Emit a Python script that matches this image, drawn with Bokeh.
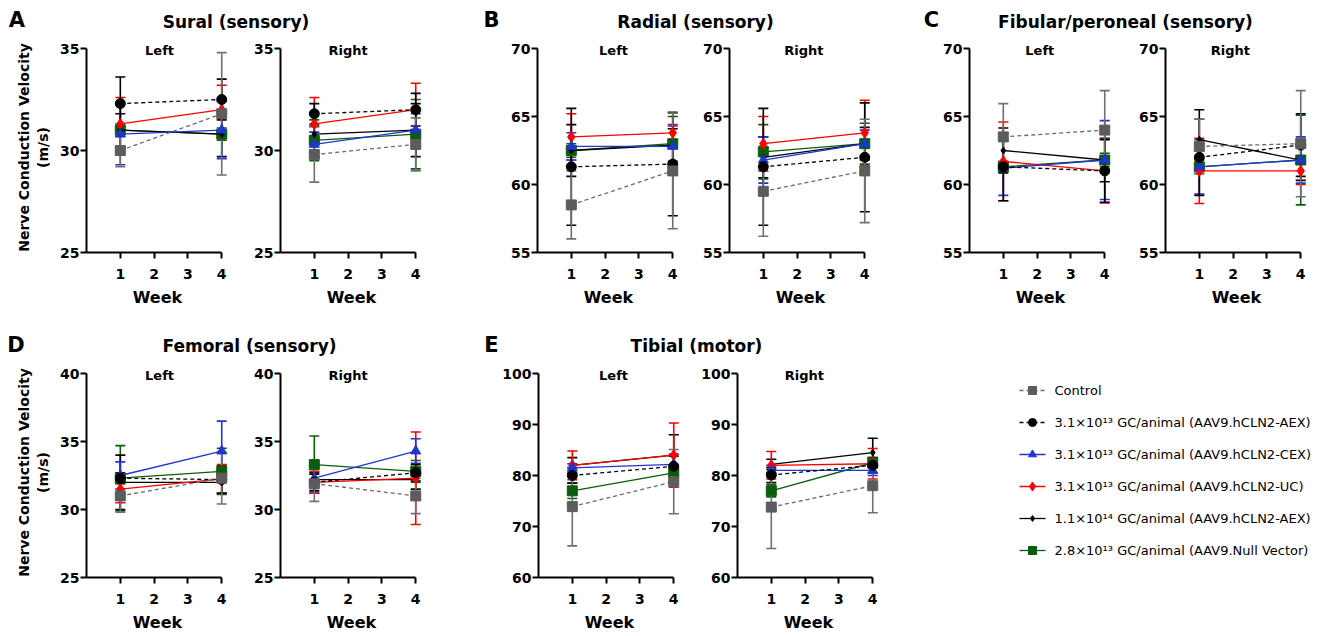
from bokeh.plotting import figure
from bokeh.models import (ColumnDataSource, Whisker, TeeHead, FixedTicker, Label, Range1d)
from bokeh.layouts import row, column
from bokeh.embed import file_html
from bokeh.resources import INLINE
from bokeh.core.properties import value

# ---------------- data ----------------
WEEKS = [1, 4]
SERIES = [
    "Control",
    "3.1×10¹³ GC/animal (AAV9.hCLN2-AEX)",
    "3.1×10¹³ GC/animal (AAV9.hCLN2-CEX)",
    "3.1×10¹³ GC/animal (AAV9.hCLN2-UC)",
    "1.1×10¹⁴ GC/animal (AAV9.hCLN2-AEX)",
    "2.8×10¹³ GC/animal (AAV9.Null Vector)",
]
# rows follow SERIES order, columns follow WEEKS (mean and SD, m/s)
SURAL_L_MEAN = [[30.0, 31.8], [32.3, 32.5], [30.8, 31.0], [31.3, 32.0], [31.0, 30.8], [31.0, 30.8]]
SURAL_L_SD = [[0.8, 3.0], [1.3, 1.0], [1.5, 1.4], [1.3, 1.2], [0.8, 1.1], [0.3, 0.3]]
SURAL_R_MEAN = [[29.8, 30.3], [31.8, 32.0], [30.3, 31.0], [31.3, 32.0], [30.8, 31.0], [30.5, 30.8]]
SURAL_R_SD = [[1.35, 1.3], [0.5, 0.8], [0.6, 0.8], [1.3, 1.3], [0.4, 1.3], [1.0, 1.7]]
RADIAL_L_MEAN = [[58.5, 61.0], [61.3, 61.5], [62.8, 62.8], [63.5, 63.8], [62.5, 62.9], [62.5, 63.0]]
RADIAL_L_SD = [[2.5, 4.25], [4.3, 3.8], [1.0, 1.5], [1.7, 0.6], [1.9, 1.2], [0.5, 2.0]]
RADIAL_R_MEAN = [[59.5, 61.0], [61.3, 62.0], [61.8, 63.0], [63.0, 63.8], [62.0, 63.0], [62.4, 63.0]]
RADIAL_R_SD = [[3.3, 3.8], [4.3, 4.0], [1.7, 1.0], [2.0, 2.4], [1.5, 1.2], [2.0, 1.5]]
FIBULAR_L_MEAN = [[63.5, 64.0], [61.3, 61.0], [61.2, 61.8], [61.7, 61.0], [62.5, 61.8], [61.3, 61.8]]
FIBULAR_L_SD = [[2.45, 2.9], [2.5, 2.3], [2.0, 2.9], [2.9, 2.35], [1.65, 1.6], [0.4, 0.5]]
FIBULAR_R_MEAN = [[62.8, 63.0], [62.0, 62.9], [61.3, 61.8], [61.0, 61.0], [63.3, 61.8], [61.3, 61.8]]
FIBULAR_R_SD = [[2.0, 3.9], [2.8, 2.3], [2.0, 1.7], [2.4, 1.0], [2.2, 1.5], [0.5, 3.3]]
FEMORAL_L_MEAN = [[31.0, 32.3], [32.3, 32.2], [32.5, 34.3], [31.5, 32.25], [32.0, 32.0], [32.3, 32.8]]
FEMORAL_L_SD = [[1.2, 1.9], [0.4, 1.0], [1.0, 2.2], [1.0, 1.05], [2.0, 0.8], [2.4, 1.7]]
FEMORAL_R_MEAN = [[31.9, 31.0], [32.0, 32.7], [32.3, 34.3], [32.0, 32.3], [32.2, 32.2], [33.3, 32.8]]
FEMORAL_R_SD = [[1.3, 1.3], [0.6, 0.6], [1.0, 0.9], [0.8, 3.4], [0.5, 0.7], [2.1, 0.8]]
TIBIAL_L_MEAN = [[73.9, 78.8], [80.0, 81.8], [81.5, 82.2], [82.0, 84.0], [82.0, 84.0], [77.0, 80.5]]
TIBIAL_L_SD = [[7.7, 6.3], [1.5, 2.0], [0.8, 2.0], [2.8, 6.3], [1.5, 4.0], [1.5, 1.5]]
TIBIAL_R_MEAN = [[73.8, 78.0], [80.1, 82.0], [81.0, 81.0], [82.0, 82.3], [82.2, 84.5], [77.0, 82.5]]
TIBIAL_R_SD = [[8.1, 5.3], [1.5, 1.5], [1.0, 1.0], [2.7, 3.0], [1.0, 2.8], [1.2, 1.0]]

X_TICKS = [1, 2, 3, 4]
SURAL_Y = (25, 35, [25, 30, 35])
RADIAL_Y = (55, 70, [55, 60, 65, 70])
FIBULAR_Y = (55, 70, [55, 60, 65, 70])
FEMORAL_Y = (25, 40, [25, 30, 35, 40])
TIBIAL_Y = (60, 100, [60, 70, 80, 90, 100])

# ---------------- styles ----------------
FONT = "DejaVu Sans"
STYLES = [
    dict(color="#5c5c5c", err="#707070", line="#6a6a6a", marker="square", size=10, dash="4 3"),
    dict(color="#000000", err="#000000", line="#000000", marker="circle", size=10, dash="4 3"),
    dict(color="#1f35d0", err="#1f35d0", line="#1f35d0", marker="triangle", size=10, dash="solid"),
    dict(color="#ff0000", err="#ff0000", line="#ff0000", marker="diamond", size=11, dash="solid"),
    dict(color="#000000", err="#000000", line="#000000", marker="diamond", size=7, dash="solid"),
    dict(color="#0b5d0b", err="#0b5d0b", line="#0b5d0b", marker="square", size=10, dash="solid"),
]
FRAME_W = 142       # x from 0 to 4.2
AXIS_H = 204        # pixel height of the bounded y axis
EXTRA_TOP = 6       # frame extends a little above the top tick
FRAME_H = AXIS_H + EXTRA_TOP
ORIGIN = 1


def style_axis(ax):
    ax.axis_line_width = 2
    ax.axis_line_color = "black"
    ax.major_tick_line_width = 2
    ax.major_tick_line_color = "black"
    ax.major_tick_out = 6
    ax.major_tick_in = 0
    ax.minor_tick_line_color = None
    ax.major_label_text_font = FONT
    ax.major_label_text_font_style = "bold"
    ax.major_label_text_font_size = "14px"
    ax.major_label_text_color = "black"
    ax.axis_label_text_font = FONT
    ax.axis_label_text_font_style = "bold"
    ax.axis_label_text_color = "black"


def subplot(mean, sd, yspec, side, side_x, bl, br, ylabel=False):
    y0, y1, yt = yspec
    ytop = y1 + (y1 - y0) * EXTRA_TOP / AXIS_H
    p = figure(frame_width=FRAME_W, frame_height=FRAME_H,
               x_range=Range1d(0, 4.2), y_range=Range1d(y0, ytop),
               min_border_left=bl, min_border_right=br, min_border_top=5, min_border_bottom=56,
               toolbar_location=None, output_backend="svg", tools="", title=None)
    p.grid.visible = False
    p.outline_line_color = None
    p.background_fill_color = "white"
    p.border_fill_color = "white"
    xa, ya = p.xaxis[0], p.yaxis[0]
    style_axis(xa)
    style_axis(ya)
    xa.ticker = FixedTicker(ticks=X_TICKS)
    xa.bounds = (0, 4)
    xa.axis_label = "Week"
    xa.axis_label_text_font_size = "16px"
    xa.major_label_standoff = 10
    xa.axis_label_standoff = 6
    ya.ticker = FixedTicker(ticks=yt)
    ya.bounds = (y0, y1)
    ya.major_label_standoff = 1
    if ylabel:
        ya.axis_label = "Nerve Conduction Velocity\n(m/s)"
        ya.axis_label_text_font_size = "14px"
        ya.axis_label_standoff = 6
    for i in reversed(range(len(SERIES))):
        st = STYLES[i]
        src = ColumnDataSource(dict(
            x=WEEKS, y=mean[i],
            upper=[m + s for m, s in zip(mean[i], sd[i])],
            lower=[m - s for m, s in zip(mean[i], sd[i])]))
        w = Whisker(source=src, base="x", upper="upper", lower="lower",
                    line_color=st["err"], line_width=1.6,
                    upper_head=TeeHead(size=10, line_color=st["err"], line_width=1.6),
                    lower_head=TeeHead(size=10, line_color=st["err"], line_width=1.6))
        p.add_layout(w)
        p.line("x", "y", source=src, line_color=st["line"], line_width=1.3, line_dash=st["dash"])
        p.scatter("x", "y", source=src, marker=st["marker"], size=st["size"],
                  fill_color=st["color"], line_color=st["color"])
    p.add_layout(Label(x=side_x, y=y1, text=side, text_align="center", text_baseline="middle",
                       y_offset=-2, text_font=FONT, text_font_style="bold",
                       text_font_size="13px", text_color="black"))
    return p


def blank(width, height, x0, y0):
    # an axis-less canvas whose coordinates equal page pixels (for titles and the key)
    s = figure(frame_width=width, frame_height=height,
               x_range=Range1d(x0, x0 + width), y_range=Range1d(y0 + height, y0),
               min_border=0, min_border_left=0, min_border_right=0,
               min_border_top=0, min_border_bottom=0,
               x_axis_type=None, y_axis_type=None, toolbar_location=None,
               output_backend="svg", tools="", title=None)
    s.grid.visible = False
    s.outline_line_color = None
    s.border_fill_color = "white"
    s.background_fill_color = "white"
    return s


def strip(top, height, letters, titles):
    s = blank(1311, height, ORIGIN, top)
    for (x, y, t) in letters:
        s.add_layout(Label(x=x, y=y, text=t, text_align="center", text_baseline="middle",
                           text_font=FONT, text_font_style="bold", text_font_size="21px",
                           text_color="black"))
    for (x, y, t) in titles:
        s.add_layout(Label(x=x, y=y, text=t, text_align="center", text_baseline="middle",
                           text_font=FONT, text_font_style="bold", text_font_size="17px",
                           text_color="black"))
    return s


strip1 = strip(ORIGIN, 38 - ORIGIN,
               [(17.5, 20, "A"), (492, 20, "B"), (932, 20, "C")],
               [(236.5, 22, "Sural (sensory)"), (696, 22, "Radial (sensory)"),
                (1126, 22, "Fibular/peroneal (sensory)")])

aL = subplot(SURAL_L_MEAN, SURAL_L_SD, SURAL_Y, "Left", 2.16, 87 - ORIGIN, 16, ylabel=True)
aR = subplot(SURAL_R_MEAN, SURAL_R_SD, SURAL_Y, "Right", 2.0, 36, 79)
bL = subplot(RADIAL_L_MEAN, RADIAL_L_SD, RADIAL_Y, "Left", 2.25, 36, 14)
bR = subplot(RADIAL_R_MEAN, RADIAL_R_SD, RADIAL_Y, "Right", 2.2, 36, 62)
cL = subplot(FIBULAR_L_MEAN, FIBULAR_L_SD, FIBULAR_Y, "Left", 2.08, 36, 18)
cR = subplot(FIBULAR_R_MEAN, FIBULAR_R_SD, FIBULAR_Y, "Right", 1.92, 36, 4)

ROW1_BOTTOM = 38 + 5 + FRAME_H + 56          # 309
ROW2_TOP = 362
strip2 = strip(ROW1_BOTTOM, ROW2_TOP - ROW1_BOTTOM,
               [(16.5, 344, "D"), (492, 344, "E")],
               [(250, 345, "Femoral (sensory)"), (697, 345, "Tibial (motor)")])

dL = subplot(FEMORAL_L_MEAN, FEMORAL_L_SD, FEMORAL_Y, "Left", 2.16, 87 - ORIGIN, 16, ylabel=True)
dR = subplot(FEMORAL_R_MEAN, FEMORAL_R_SD, FEMORAL_Y, "Right", 2.0, 36, 72)
eL = subplot(TIBIAL_L_MEAN, TIBIAL_L_SD, TIBIAL_Y, "Left", 2.22, 44, 13)
eR = subplot(TIBIAL_R_MEAN, TIBIAL_R_SD, TIBIAL_Y, "Right", 1.98, 44, 127)   # ends at x=1007

# ---------------- key (legend) panel ----------------
ROW_H = 5 + FRAME_H + 56
KEY_LEFT, KEY_W, KEY_GAP = 1020, 26, 9
KEY_TOP, KEY_PITCH = 385, 32
leg_fig = blank(308, ROW_H, 1007, ROW2_TOP)
for i, name in enumerate(SERIES):
    st = STYLES[i]
    yk = KEY_TOP + KEY_PITCH * i
    key = ColumnDataSource(dict(x0=[KEY_LEFT], x1=[KEY_LEFT + KEY_W], xm=[KEY_LEFT + KEY_W / 2],
                                xt=[KEY_LEFT + KEY_W + KEY_GAP], y=[yk], label=[name]))
    leg_fig.segment(x0="x0", y0="y", x1="x1", y1="y", source=key, line_color=st["line"],
                    line_width=1.3, line_dash=st["dash"])
    leg_fig.scatter(x="xm", y="y", source=key, marker=st["marker"],
                    size=max(st["size"] - 2, 6), fill_color=st["color"], line_color=st["color"])
    leg_fig.text(x="xt", y="y", text="label", source=key, text_baseline="middle",
                 text_align="left", text_font=value(FONT), text_font_size="13px",
                 text_color="black")

layout = column(strip1, row(aL, aR, bL, bR, cL, cR), strip2, row(dL, dR, eL, eR, leg_fig))

open("out.html", "w").write(file_html(layout, INLINE))
